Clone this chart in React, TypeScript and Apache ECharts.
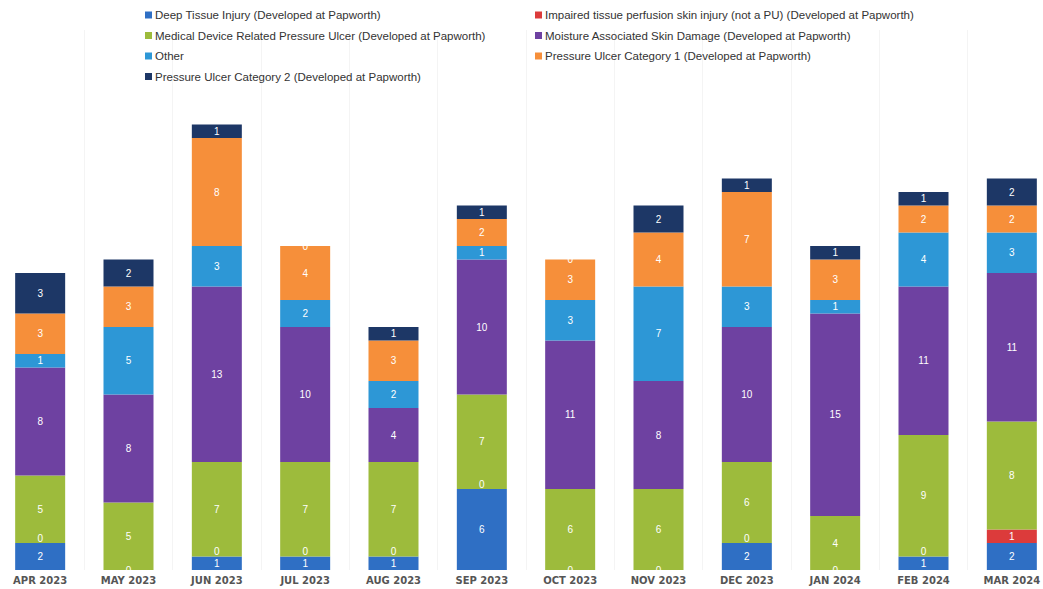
import React, { useEffect, useRef } from "react";
import * as echarts from "echarts";

const categories = [
  "APR 2023", "MAY 2023", "JUN 2023", "JUL 2023", "AUG 2023", "SEP 2023",
  "OCT 2023", "NOV 2023", "DEC 2023", "JAN 2024", "FEB 2024", "MAR 2024",
];

const deepTissue = [2, 0, 1, 1, 1, 6, 0, 0, 2, 0, 1, 2];
const impairedTissue = [0, 0, 0, 0, 0, 0, 0, 0, 0, 0, 0, 1];
const medicalDevice = [5, 5, 7, 7, 7, 7, 6, 6, 6, 4, 9, 8];
const moisture = [8, 8, 13, 10, 4, 10, 11, 8, 10, 15, 11, 11];
const other = [1, 5, 3, 2, 2, 1, 3, 7, 3, 1, 4, 3];
const puCat1 = [3, 3, 8, 4, 3, 2, 3, 4, 7, 3, 2, 2];
const puCat2 = [3, 2, 1, 0, 1, 1, 0, 2, 1, 1, 1, 2];

const seriesDefs = [
  { name: "Deep Tissue Injury (Developed at Papworth)", data: deepTissue, color: "#2f6fc4" },
  { name: "Impaired tissue perfusion skin injury (not a PU) (Developed at Papworth)", data: impairedTissue, color: "#dc3b3b" },
  { name: "Medical Device Related Pressure Ulcer (Developed at Papworth)", data: medicalDevice, color: "#9dbb3c" },
  { name: "Moisture Associated Skin Damage (Developed at Papworth)", data: moisture, color: "#6e41a1" },
  { name: "Other", data: other, color: "#2d97d6" },
  { name: "Pressure Ulcer Category 1 (Developed at Papworth)", data: puCat1, color: "#f68f3a" },
  { name: "Pressure Ulcer Category 2 (Developed at Papworth)", data: puCat2, color: "#1d3766" },
];

export default function App() {
  const ref = useRef<HTMLDivElement>(null);
  useEffect(() => {
    if (!ref.current) return;
    const chart = echarts.init(ref.current, undefined, { renderer: "svg" });
    const font = "'Liberation Sans', Arial, sans-serif";
    const shift = 4;
    const legendCommon = {
      orient: "vertical" as const,
      top: 4,
      itemGap: 8.5,
      itemWidth: 7,
      itemHeight: 7,
      icon: "rect",
      textStyle: { fontSize: 11.5, color: "#333", fontFamily: font, padding: [0, 0, 0, -2] },
    };
    const series = seriesDefs.map((s, si) => {
      const data = s.data.map((v, i) => {
        if (si === 1 && v === 0) {
          // impaired-tissue zero: drawn just above the boundary, hidden when it coincides with a zero below
          return {
            value: v,
            label: deepTissue[i] === 0
              ? { show: false }
              : { show: true, position: "top" as const, distance: 0 },
          };
        }
        return v;
      });
      return {
        name: s.name,
        type: "bar",
        stack: "total",
        data,
        barWidth: 50,
        itemStyle: { color: s.color },
        label: {
          show: true,
          position: "inside",
          color: "#ffffff",
          fontSize: 10,
          fontFamily: font,
          formatter: (p: any) => String(p.value),
        },
      };
    });
    chart.setOption({
      animation: false,
      backgroundColor: "#ffffff",
      legend: [
        {
          ...legendCommon,
          left: 140 + shift,
          data: [seriesDefs[0].name, seriesDefs[2].name, seriesDefs[4].name, seriesDefs[6].name],
        },
        {
          ...legendCommon,
          left: 530 + shift,
          data: [seriesDefs[1].name, seriesDefs[3].name, seriesDefs[5].name],
        },
      ],
      grid: { left: 0, right: 0, top: 30, bottom: 19, containLabel: false },
      xAxis: {
        type: "category",
        data: categories,
        axisLine: { show: false },
        axisTick: { show: false },
        splitLine: { show: true, lineStyle: { color: "#f4f4f4", width: 1 } },
        axisLabel: {
          fontSize: 10,
          fontWeight: "bold",
          color: "#555",
          fontFamily: "'DejaVu Sans', sans-serif",
          margin: 5,
        },
      },
      yAxis: {
        type: "value",
        min: 0,
        max: 40,
        show: false,
        splitLine: { show: false },
      },
      series,
    });
    return () => chart.dispose();
  }, []);
  return (
    <div style={{ position: "fixed", left: 0, top: 0, width: 1043, height: 589, overflow: "hidden", background: "#fff" }}>
      <div
        ref={ref}
        style={{ position: "absolute", left: -4, top: 0, width: 1060, height: 589 }}
      />
    </div>
  );
}
